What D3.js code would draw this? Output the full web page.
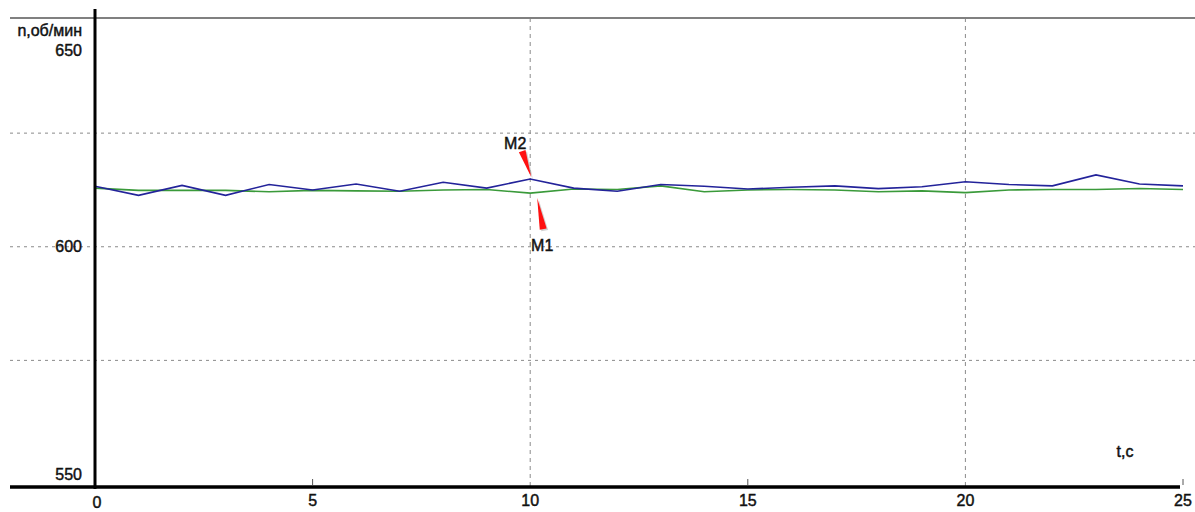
<!DOCTYPE html>
<html>
<head>
<meta charset="utf-8">
<script src="https://cdn.jsdelivr.net/npm/d3@7"></script>
<style>
  body { margin: 0; background: #fff; }
  svg text { font-family: "Liberation Sans", Arial, sans-serif; font-size: 16px; fill: #111; stroke: #111; stroke-width: 0.45px; }
</style>
</head>
<body>
<div id="chart"></div>
<script>
// time, s
var time = [0,1,2,3,4,5,6,7,8,9,10,11,12,13,14,15,16,17,18,19,20,21,22,23,24,25];
// M2 (blue)
var speedM2 = [613.3,611.3,613.5,611.3,613.7,612.5,613.8,612.2,614.2,612.9,614.9,612.9,612.2,613.7,613.3,612.7,613.1,613.4,612.8,613.2,614.3,613.7,613.4,615.8,613.8,613.4];
// M1 (green)
var speedM1 = [612.9,612.4,612.4,612.4,612.1,612.4,612.3,612.2,612.5,612.6,611.8,612.7,612.6,613.4,612.1,612.5,612.6,612.5,612.1,612.3,611.9,612.5,612.6,612.6,612.8,612.6];
var yTicks = [550, 600, 650];
var yGrid = [575, 600, 625];
var xTicks = [0, 5, 10, 15, 20, 25];
var xGrid = [10, 20];

var width = 1195, height = 512;
var svg = d3.select('#chart').append('svg')
  .attr('width', width).attr('height', height);

var x = d3.scaleLinear().domain([0, 25]).range([95, 1183]);
var y = d3.scaleLinear().domain([550, 650]).range([474, 19.5]);
var plotTop = 18, plotBottom = 487;

// horizontal dashed grid
svg.selectAll('.hgrid').data(yGrid).enter().append('line')
  .attr('x1', 10).attr('x2', width)
  .attr('y1', d => y(d)).attr('y2', d => y(d))
  .attr('stroke', '#8a8a8a').attr('stroke-width', 1)
  .attr('stroke-dasharray', '3,4');

// vertical dashed grid
svg.selectAll('.vgrid').data(xGrid).enter().append('line')
  .attr('x1', d => x(d)).attr('x2', d => x(d))
  .attr('y1', plotTop).attr('y2', plotBottom)
  .attr('stroke', '#8a8a8a').attr('stroke-width', 1)
  .attr('stroke-dasharray', '4,4');

// top border
svg.append('line').attr('x1', 10).attr('x2', width)
  .attr('y1', plotTop).attr('y2', plotTop)
  .attr('stroke', '#808080').attr('stroke-width', 2);

// small ticks on x axis
svg.selectAll('.xtick').data([5, 15, 25]).enter().append('line')
  .attr('x1', d => x(d)).attr('x2', d => x(d))
  .attr('y1', plotBottom - 8).attr('y2', plotBottom - 2)
  .attr('stroke', '#555').attr('stroke-width', 1);

// lines
var line = d3.line().x((d, i) => x(time[i])).y(d => y(d));
svg.append('path').datum(speedM1)
  .attr('d', line).attr('fill', 'none')
  .attr('stroke', '#3a9a3a').attr('stroke-width', 1.6);
svg.append('path').datum(speedM2)
  .attr('d', line).attr('fill', 'none')
  .attr('stroke', '#23239a').attr('stroke-width', 1.6);

// axes
svg.append('line').attr('x1', x(0)).attr('x2', x(0))
  .attr('y1', 9).attr('y2', plotBottom + 2)
  .attr('stroke', '#000').attr('stroke-width', 3);
svg.append('line').attr('x1', 10).attr('x2', 1180)
  .attr('y1', plotBottom).attr('y2', plotBottom)
  .attr('stroke', '#000').attr('stroke-width', 3.5);

// y labels
svg.selectAll('.ylab').data(yTicks).enter().append('text')
  .attr('x', 82)
  .attr('y', d => d == 650 ? y(d) + 31 : y(d))
  .attr('dy', '0.35em')
  .attr('text-anchor', 'end')
  .text(d => d);
svg.append('text').attr('x', 82).attr('y', 36)
  .attr('text-anchor', 'end').text('n,об/мин');

// x labels
svg.selectAll('.xlab').data(xTicks).enter().append('text')
  .attr('x', d => x(d) + (d == 0 ? 2 : 0))
  .attr('y', d => d == 0 ? 508 : 506)
  .attr('text-anchor', 'middle')
  .text(d => d);
svg.append('text').attr('x', 1125).attr('y', 457)
  .attr('text-anchor', 'middle').text('t,c');

// markers M2 / M1
function arrow(tipX, tipY, tailX, tailY) {
  var dx = tailX - tipX, dy = tailY - tipY;
  var len = Math.sqrt(dx * dx + dy * dy);
  var nx = -dy / len * 3.5, ny = dx / len * 3.5;
  var pts = [[tipX, tipY], [tailX + nx, tailY + ny], [tailX - nx, tailY - ny]];
  svg.append('polygon')
    .attr('points', pts.map(p => (p[0] + 1.5) + ',' + (p[1] + 1.5)).join(' '))
    .attr('fill', '#b0b0b0').attr('opacity', 0.6);
  svg.append('polygon')
    .attr('points', pts.map(p => p.join(',')).join(' '))
    .attr('fill', '#ff1010');
}
var tx = x(10);
arrow(tx + 1, y(speedM2[10]) - 2, tx - 8, y(speedM2[10]) - 28);
svg.append('text').attr('x', tx - 15).attr('y', y(speedM2[10]) - 30)
  .attr('text-anchor', 'middle').text('M2');
arrow(tx + 7, y(speedM1[10]) + 5, tx + 13, y(speedM1[10]) + 36);
svg.append('text').attr('x', tx + 12).attr('y', y(speedM1[10]) + 58)
  .attr('text-anchor', 'middle').text('M1');
</script>
</body>
</html>
